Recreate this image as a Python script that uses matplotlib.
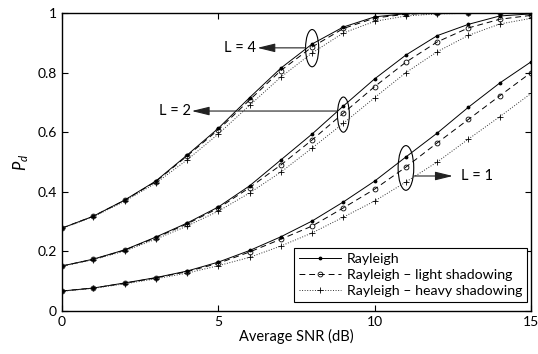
import numpy as np
import matplotlib
matplotlib.use("Agg")
import matplotlib.pyplot as plt
from matplotlib.patches import Ellipse

plt.rcParams['font.family'] = ['Lato', 'DejaVu Sans']
plt.rcParams['mathtext.fontset'] = 'custom'
plt.rcParams['mathtext.it'] = 'Lato:italic'
plt.rcParams['mathtext.rm'] = 'Lato'

# Average SNR (dB)
snr = np.arange(0, 16)

# L = 4
ray4 = [0.278, 0.318, 0.372, 0.436, 0.523, 0.613, 0.716, 0.815, 0.896, 0.953, 0.987, 0.998, 1.0, 1.0, 1.0, 1.0]
light4 = [0.278, 0.318, 0.371, 0.434, 0.520, 0.608, 0.708, 0.807, 0.886, 0.948, 0.983, 0.996, 0.999, 1.0, 1.0, 1.0]
heavy4 = [0.277, 0.316, 0.368, 0.429, 0.507, 0.594, 0.690, 0.785, 0.866, 0.933, 0.972, 0.990, 0.997, 0.999, 1.0, 1.0]

# L = 2
ray2 = [0.151, 0.174, 0.205, 0.248, 0.295, 0.349, 0.420, 0.507, 0.594, 0.688, 0.779, 0.859, 0.924, 0.962, 0.990, 0.997]
light2 = [0.151, 0.173, 0.204, 0.246, 0.292, 0.345, 0.414, 0.490, 0.574, 0.664, 0.753, 0.835, 0.903, 0.950, 0.979, 0.992]
heavy2 = [0.150, 0.172, 0.201, 0.241, 0.285, 0.335, 0.396, 0.466, 0.547, 0.630, 0.716, 0.800, 0.870, 0.925, 0.963, 0.982]

# L = 1
ray1 = [0.067, 0.077, 0.094, 0.112, 0.134, 0.164, 0.203, 0.249, 0.302, 0.366, 0.436, 0.517, 0.597, 0.684, 0.765, 0.836]
light1 = [0.067, 0.077, 0.093, 0.111, 0.132, 0.160, 0.198, 0.241, 0.285, 0.346, 0.409, 0.483, 0.564, 0.643, 0.722, 0.800]
heavy1 = [0.066, 0.076, 0.091, 0.108, 0.127, 0.152, 0.180, 0.218, 0.262, 0.315, 0.369, 0.433, 0.500, 0.577, 0.652, 0.730]

labels = ["Rayleigh", "Rayleigh \u2013 light shadowing", "Rayleigh \u2013 heavy shadowing"]

fig = plt.figure(figsize=(5.38, 3.54), dpi=100)
ax = fig.add_axes([0.1152, 0.1215, 0.8718, 0.8418])

lw = 0.7
for i, (r, l, h) in enumerate([(ray4, light4, heavy4), (ray2, light2, heavy2), (ray1, light1, heavy1)]):
    ax.plot(snr, r, '-', color='k', lw=lw, marker='.', ms=3.5,
            label=labels[0] if i == 0 else None)
    ax.plot(snr, l, '--', color='k', lw=lw, marker='o', ms=3.5, mfc='none', mew=0.6,
            dashes=(6, 4), label=labels[1] if i == 0 else None)
    ax.plot(snr, h, ':', color='#333333', lw=lw, marker='+', ms=5, mew=0.6, mec='k',
            label=labels[2] if i == 0 else None)

# ellipses marking the groups
for cx, cy, w, h in [(8.0, 0.882, 0.42, 0.125), (9.0, 0.659, 0.38, 0.118), (11.0, 0.48, 0.5, 0.15)]:
    ax.add_patch(Ellipse((cx, cy), w, h, fill=False, ec='k', lw=0.8))

arrow = dict(arrowstyle='-|>,head_length=0.9,head_width=0.22', color='#222222', lw=0.8,
             mutation_scale=12, shrinkA=0, shrinkB=0)
ax.annotate('', xy=(6.25, 0.883), xytext=(7.79, 0.883), arrowprops=arrow)
ax.text(6.22, 0.883, 'L = 4', ha='right', va='center', fontsize=10.5)
ax.annotate('', xy=(4.15, 0.671), xytext=(8.81, 0.671), arrowprops=arrow)
ax.text(4.12, 0.671, 'L = 2', ha='right', va='center', fontsize=10.5)
ax.annotate('', xy=(12.5, 0.453), xytext=(11.25, 0.453), arrowprops=arrow)
ax.text(12.75, 0.453, 'L = 1', ha='left', va='center', fontsize=10.5)

ax.set_xlim(0, 15)
ax.set_ylim(0, 1)
ax.set_xticks([0, 5, 10, 15])
ax.set_yticks([0, 0.2, 0.4, 0.6, 0.8, 1])
ax.set_yticklabels(['0', '0.2', '0.4', '0.6', '0.8', '1'])
ax.tick_params(direction='in', top=True, right=True, labelsize=10, length=4, width=0.8)
for s in ax.spines.values():
    s.set_linewidth(1.0)
ax.set_xlabel('Average SNR (dB)', fontsize=10.5, labelpad=1)
ax.set_ylabel('$P_d$', fontsize=12, labelpad=5)

leg = ax.legend(loc='lower right', bbox_to_anchor=(0.992, 0.03), borderaxespad=0,
                fontsize=10.2, fancybox=False, framealpha=1, edgecolor='k',
                handlelength=3.0, labelspacing=0.3, borderpad=0.35, handletextpad=0.4)
leg.get_frame().set_linewidth(0.8)

fig.savefig('out.png', dpi=100)
